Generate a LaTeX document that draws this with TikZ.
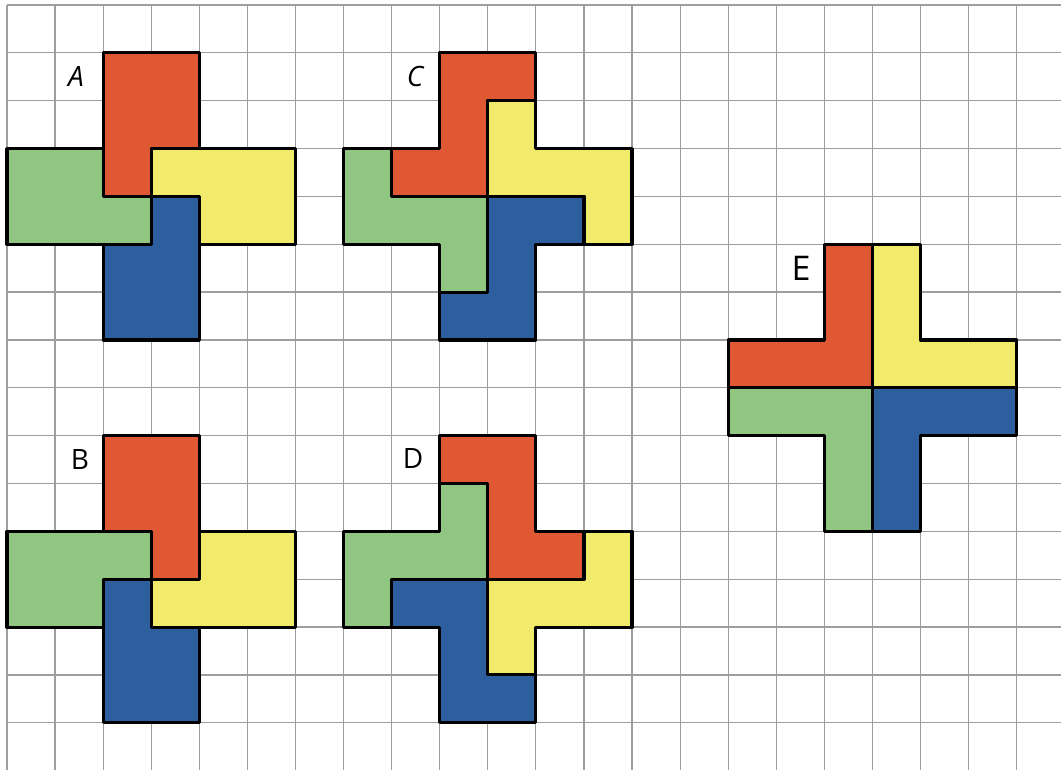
\documentclass[tikz,border=0pt]{standalone}
\usepackage{fontspec}
\setmainfont{Open Sans}
\definecolor{pred}{RGB}{224,87,51}
\definecolor{pyellow}{RGB}{241,234,107}
\definecolor{pgreen}{RGB}{144,198,130}
\definecolor{pblue}{RGB}{45,94,158}
\definecolor{gridc}{RGB}{158,158,158}
\tikzset{
  gridline/.style={draw=gridc, line width=1.2pt},
  piece/.style={draw=black, line width=3.1pt, line join=round},
  lbl/.style={font=\fontsize{28}{30}\selectfont, inner sep=0pt, text=black}
}
\begin{document}
\begin{tikzpicture}[x=1pt,y=-1pt]
\useasboundingbox (0,0) rectangle (1061,770);
\fill[white] (0,0) rectangle (1061,770);
\begin{scope}
\clip (0,0) rectangle (1061,770);
\begin{scope}[shift={(7pt,-5pt)},x=48.08pt,y=-47.85pt]
\foreach \i in {0,...,22} \draw[gridline] (\i,0) -- (\i,16.5);
\foreach \j in {0,...,16} \draw[gridline] (0,\j) -- (22.5,\j);

% A
\filldraw[piece, fill=pred] (2,1)--(4,1)--(4,3)--(3,3)--(3,4)--(2,4)--cycle;
\filldraw[piece, fill=pgreen] (0,3)--(2,3)--(2,4)--(3,4)--(3,5)--(0,5)--cycle;
\filldraw[piece, fill=pyellow] (3,3)--(6,3)--(6,5)--(4,5)--(4,4)--(3,4)--cycle;
\filldraw[piece, fill=pblue] (3,4)--(4,4)--(4,7)--(2,7)--(2,5)--(3,5)--cycle;

% B
\filldraw[piece, fill=pred] (2,9)--(4,9)--(4,12)--(3,12)--(3,11)--(2,11)--cycle;
\filldraw[piece, fill=pgreen] (0,11)--(3,11)--(3,12)--(2,12)--(2,13)--(0,13)--cycle;
\filldraw[piece, fill=pyellow] (4,11)--(6,11)--(6,13)--(3,13)--(3,12)--(4,12)--cycle;
\filldraw[piece, fill=pblue] (2,12)--(3,12)--(3,13)--(4,13)--(4,15)--(2,15)--cycle;

% C
\filldraw[piece, fill=pred] (9,1)--(11,1)--(11,2)--(10,2)--(10,4)--(8,4)--(8,3)--(9,3)--cycle;
\filldraw[piece, fill=pyellow] (10,2)--(11,2)--(11,3)--(13,3)--(13,5)--(12,5)--(12,4)--(10,4)--cycle;
\filldraw[piece, fill=pgreen] (7,3)--(8,3)--(8,4)--(10,4)--(10,6)--(9,6)--(9,5)--(7,5)--cycle;
\filldraw[piece, fill=pblue] (10,4)--(12,4)--(12,5)--(11,5)--(11,7)--(9,7)--(9,6)--(10,6)--cycle;

% D
\filldraw[piece, fill=pred] (9,9)--(11,9)--(11,11)--(12,11)--(12,12)--(10,12)--(10,10)--(9,10)--cycle;
\filldraw[piece, fill=pgreen] (9,10)--(10,10)--(10,12)--(8,12)--(8,13)--(7,13)--(7,11)--(9,11)--cycle;
\filldraw[piece, fill=pblue] (8,12)--(10,12)--(10,14)--(11,14)--(11,15)--(9,15)--(9,13)--(8,13)--cycle;
\filldraw[piece, fill=pyellow] (10,12)--(12,12)--(12,11)--(13,11)--(13,13)--(11,13)--(11,14)--(10,14)--cycle;

% E
\filldraw[piece, fill=pred] (17,5)--(18,5)--(18,8)--(15,8)--(15,7)--(17,7)--cycle;
\filldraw[piece, fill=pyellow] (18,5)--(19,5)--(19,7)--(21,7)--(21,8)--(18,8)--cycle;
\filldraw[piece, fill=pgreen] (15,8)--(18,8)--(18,11)--(17,11)--(17,9)--(15,9)--cycle;
\filldraw[piece, fill=pblue] (18,8)--(21,8)--(21,9)--(19,9)--(19,11)--(18,11)--cycle;
\end{scope}
\end{scope}

\node[lbl, font=\fontsize{28}{30}\selectfont\itshape] (la) at (76,77) {A};
\node[lbl] (lb) at (80,460) {B};
\node[lbl, font=\fontsize{28}{30}\selectfont\itshape] (lc) at (415,77) {C};
\node[lbl] (ld) at (413,459) {D};
\node[lbl, font=\fontsize{34}{36}\selectfont] (le) at (801,268) {E};
\end{tikzpicture}
\end{document}
